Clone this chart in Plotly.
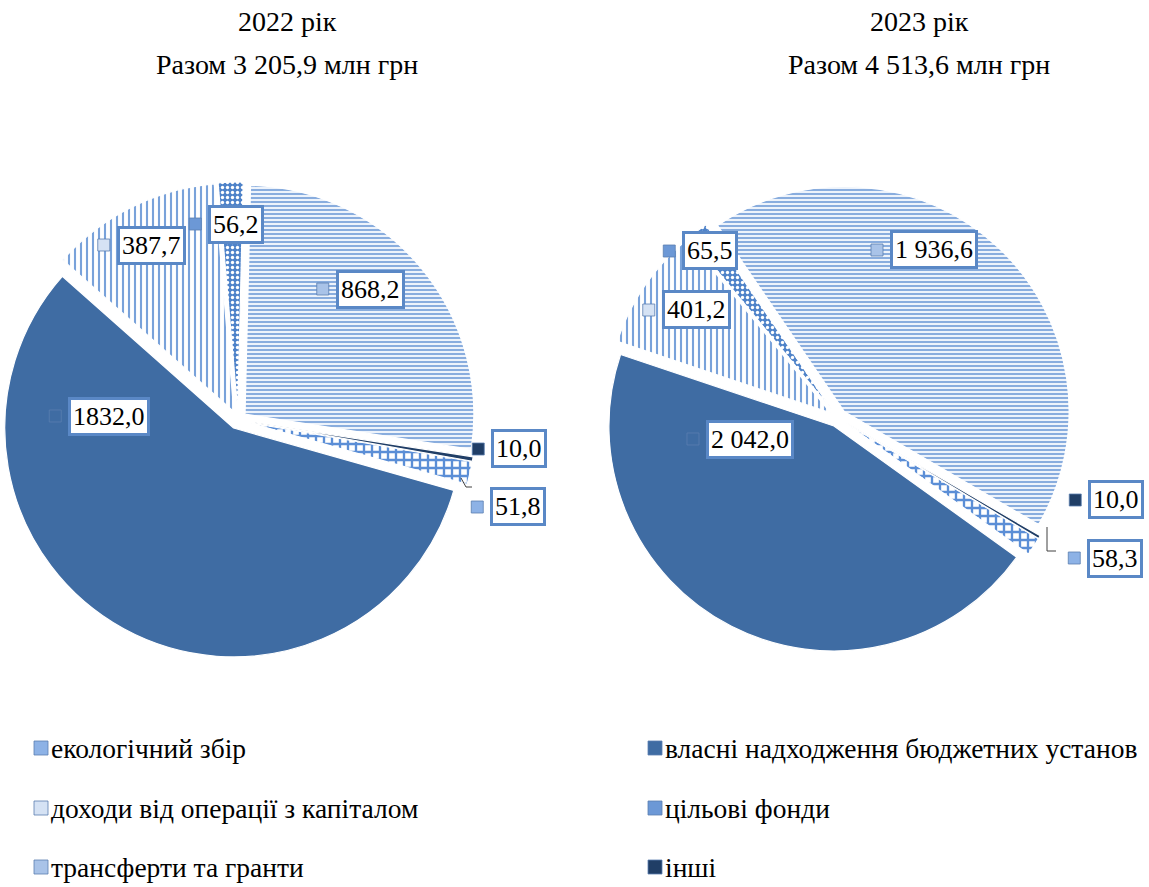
import plotly.graph_objects as go

W, H = 1149, 887

# ---------------- data ----------------
CATEGORIES = [
    "екологічний збір",
    "власні надходження бюджетних установ",
    "доходи від операції з капіталом",
    "цільові фонди",
    "трансферти та гранти",
    "інші",
]
VALUES_2022 = [51.8, 1832.0, 387.7, 56.2, 868.2, 10.0]
VALUES_2023 = [58.3, 2042.0, 401.2, 65.5, 1936.6, 10.0]
LABELS_2022 = ["51,8", "1832,0", "387,7", "56,2", "868,2", "10,0"]
LABELS_2023 = ["58,3", "2 042,0", "401,2", "65,5", "1 936,6", "10,0"]
YEARS = ["2022 рік", "2023 рік"]
TOTALS = ["Разом 3 205,9 млн грн", "Разом 4 513,6 млн грн"]

# ---------------- styles ----------------
FONT = "Liberation Serif"
SHAPES = ["+", "", "|", ".", "-", ""]
FG = ["#5B8ED6", "#3F6CA3", "#79A2DA", "#FFFFFF", "#7EA5DB", "#203E66"]
BG = ["#FFFFFF", "#3F6CA3", "#FFFFFF", "#4F83C9", "#EDF3FB", "#203E66"]
PSIZE = [8, 8, 6, 5, 4, 8]
SOLID = [0.5, 0.3, 0.35, 0.35, 0.45, 0.3]
ICON = ["#8DB2E6", "#3F6CA3", "#D5E2F4", "#6C98D6", "#A9C3E8", "#203E66"]
BOX = "#5A88C6"


def px(x):
    return x / W


def py(y):
    return 1 - y / H


# pie placement (pixels: centre x, centre y, diameter) and rotation
PIES = [
    dict(values=VALUES_2022, labels=LABELS_2022, cx=238, cy=420, d=476, rot=100,
         title_x=287,
         lab=[(518, 507), (109, 416), (151, 245), (236, 224), (370, 289), (519, 449)],
         leader=[(461, 478), (466, 487), (472, 487)]),
    dict(values=VALUES_2023, labels=LABELS_2023, cx=838, cy=418, d=468, rot=121,
         title_x=919,
         lab=[(1115, 558), (750, 439), (696, 310), (710, 251), (934, 250), (1116, 500)],
         leader=[(1047, 527), (1047, 551), (1056, 551)]),
]

fig = go.Figure()
annotations = []
shapes = []

for k, p in enumerate(PIES):
    fig.add_trace(go.Pie(
        labels=CATEGORIES,
        values=p["values"],
        sort=False,
        direction="clockwise",
        rotation=p["rot"],
        pull=[0.04] * len(CATEGORIES),
        textinfo="none",
        showlegend=False,
        hovertemplate="%{label}: %{value}<extra></extra>",
        marker=dict(
            colors=BG,
            line=dict(color="#FFFFFF", width=1.2),
            pattern=dict(shape=SHAPES, fgcolor=FG, bgcolor=BG, size=PSIZE,
                         solidity=SOLID, fillmode="replace"),
        ),
        domain=dict(x=[max(0, px(p["cx"] - p["d"] / 2)), min(1, px(p["cx"] + p["d"] / 2))],
                    y=[py(p["cy"] + p["d"] / 2), py(p["cy"] - p["d"] / 2)]),
    ))

    # titles
    annotations.append(dict(text=YEARS[k], x=px(p["title_x"]), y=py(22), xref="paper", yref="paper",
                            showarrow=False, xanchor="center", yanchor="middle",
                            font=dict(family=FONT, size=28, color="#000000")))
    annotations.append(dict(text=TOTALS[k], x=px(p["title_x"]), y=py(65), xref="paper", yref="paper",
                            showarrow=False, xanchor="center", yanchor="middle",
                            font=dict(family=FONT, size=28, color="#000000")))

    # boxed data labels with small key icons
    for i, txt in enumerate(p["labels"]):
        lx, ly = p["lab"][i]
        annotations.append(dict(text=txt, x=px(lx), y=py(ly), xref="paper", yref="paper",
                                showarrow=False, xanchor="center", yanchor="middle",
                                font=dict(family=FONT, size=26, color="#000000"),
                                bgcolor="#FFFFFF", bordercolor=BOX, borderwidth=3, borderpad=2))
        tw = sum(13 if c.isdigit() else 6.5 for c in txt)
        ix = lx - tw / 2 - 5 - 13
        shapes.append(dict(type="rect", xref="paper", yref="paper",
                           x0=px(ix - 6), x1=px(ix + 6), y0=py(ly + 6), y1=py(ly - 6),
                           fillcolor=ICON[i], line=dict(color="#5A7FB0", width=0.8)))

    # leader line for the small ecological slice
    pts = p["leader"]
    path = "M " + " L ".join(f"{px(a)},{py(b)}" for a, b in pts)
    shapes.append(dict(type="path", xref="paper", yref="paper", path=path,
                       line=dict(color="#404040", width=1)))

# legend (two columns, three rows)
LEG_X = [41, 655]
LEG_Y = [748, 808, 867]
for i, name in enumerate(CATEGORIES):
    col, row = i % 2, i // 2
    ix, iy = LEG_X[col], LEG_Y[row]
    shapes.append(dict(type="rect", xref="paper", yref="paper",
                       x0=px(ix - 7), x1=px(ix + 7), y0=py(iy + 7), y1=py(iy - 7),
                       fillcolor=ICON[i], line=dict(color="#5A7FB0", width=0.8)))
    annotations.append(dict(text=name, x=px(ix + 8), y=py(iy), xref="paper", yref="paper",
                            showarrow=False, xanchor="left", yanchor="middle",
                            font=dict(family=FONT, size=27.5, color="#000000")))

fig.update_layout(
    width=W, height=H,
    margin=dict(l=0, r=0, t=0, b=0),
    paper_bgcolor="#FFFFFF",
    plot_bgcolor="#FFFFFF",
    font=dict(family=FONT),
    annotations=annotations,
    shapes=shapes,
    showlegend=False,
)

fig.write_html("out.html",
               config={"displayModeBar": False},
               post_script="document.body.style.margin='0px';document.body.style.overflow='hidden';")
